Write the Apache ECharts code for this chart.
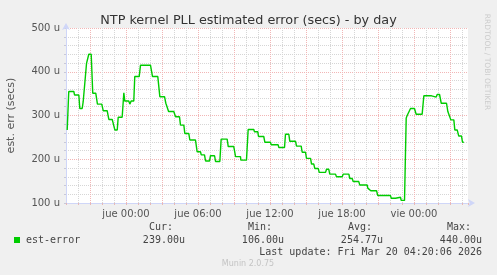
<!DOCTYPE html>
<html><head><meta charset="utf-8">
<script src="https://cdn.jsdelivr.net/npm/echarts@6/dist/echarts.min.js"></script>
<style>html,body{margin:0;padding:0;background:#F0F0F0}#c{width:497px;height:275px}</style>
</head><body><div id="c"></div>
<script>
// hours relative to Thu (jue) 00:00; each step holds value from start to end
const segStart = [-4.90,-4.77,-4.29,-3.85,-3.57,-3.29,-3.10,-2.77,-2.38,-1.90,-1.43,-0.93,-0.65,-0.18,-0.10,0.32,0.43,0.73,1.21,2.08,2.21,2.82,3.32,3.55,4.13,4.54,4.90,5.32,5.93,6.27,6.63,7.04,7.46,7.93,8.52,9.13,9.57,10.18,10.70,11.04,11.57,12.10,12.73,13.29,13.65,14.21,14.68,15.04,15.46,15.73,16.10,16.71,16.98,17.54,18.10,18.65,18.93,19.48,20.15,20.40,20.98,22.10,22.54,22.93,23.35,23.43,23.71,24.18,24.82,25.52,25.93,26.27,26.82,27.07,27.40,27.73,28.04];
const segEnd   = [-4.90,-4.35,-3.93,-3.65,-3.46,-3.15,-2.90,-2.52,-2.02,-1.57,-1.15,-0.73,-0.32,-0.18,0.23,0.32,0.65,1.10,2.04,2.18,2.65,3.21,3.45,3.98,4.46,4.82,5.23,5.79,6.21,6.54,6.96,7.38,7.82,8.43,8.98,9.54,10.04,10.65,10.98,11.48,12.04,12.68,13.21,13.57,14.13,14.60,14.96,15.38,15.65,16.02,16.63,16.90,17.46,18.02,18.57,18.85,19.40,20.10,20.30,20.88,22.04,22.46,22.88,23.21,23.35,23.57,24.04,24.68,25.46,25.85,26.13,26.71,26.98,27.32,27.60,27.96,28.15];
const segValue = [267,355,347,316,331,419,440,351,326,311,291,267,296,352,333,326,333,389,415,412,389,343,328,309,297,278,259,244,217,210,196,208,195,246,229,206,198,268,263,252,239,233,227,257,241,230,216,202,189,179,170,177,166,160,166,156,149,141,134,128,117,111,113,106,294,300,316,303,345,342,348,328,309,290,267,253,239];

const xLabelHours = [0, 6, 12, 18, 24];
const xLabelText = ['jue 00:00', 'jue 06:00', 'jue 12:00', 'jue 18:00', 'vie 00:00'];
const yLabelValues = [100, 200, 300, 400, 500];
const titleText = 'NTP kernel PLL estimated error (secs) - by day';
const yTitle = 'est. err (secs)';
const seriesName = 'est-error';
const statNames = ['Cur:', 'Min:', 'Avg:', 'Max:'];
const statValues = ['239.00u', '106.00u', '254.77u', '440.00u'];
const lastUpdate = 'Last update: Fri Mar 20 04:20:06 2026';
const footer = 'Munin 2.0.75';
const sideText = 'RRDTOOL / TOBI OETIKER';

const data = [];
for (let i = 0; i < segValue.length; i++) {
  data.push([segStart[i], segValue[i]]);
  if (segEnd[i] !== segStart[i]) data.push([segEnd[i], segValue[i]]);
}

const GRAY = '#d6d6d6', RED = '#f2b6b6', AXIS = '#CFD6F8', TXT = '#555';
const mono = '10px "DejaVu Sans Mono"';
const statX = [149, 248, 348, 447];
const valRight = [185, 284, 383, 482];

const graphics = [
  {type:'rect', shape:{x:14, y:237, width:6, height:6}, style:{fill:'#00CC00'}},
  {type:'text', x:26, y:240, style:{text:seriesName, font:mono, fill:'#444', align:'left', verticalAlign:'middle'}},
  {type:'text', x:482, y:252, style:{text:lastUpdate, font:mono, fill:'#444', align:'right', verticalAlign:'middle'}},
  {type:'text', x:248, y:264, style:{text:footer, font:'8px "DejaVu Sans"', fill:'#c4c4c4', align:'center', verticalAlign:'middle'}},
  {type:'text', x:487, y:62, rotation:-Math.PI/2, style:{text:sideText, font:'7.5px "DejaVu Sans"', fill:'#cccccc', align:'center', verticalAlign:'middle'}}
];
statNames.forEach((n, i) => {
  graphics.push({type:'text', x:statX[i], y:227.5, style:{text:n, font:mono, fill:'#444', align:'left', verticalAlign:'middle'}});
  graphics.push({type:'text', x:valRight[i], y:240, style:{text:statValues[i], font:mono, fill:'#444', align:'right', verticalAlign:'middle'}});
});

const chart = echarts.init(document.getElementById('c'), null, {renderer:'canvas'});
chart.setOption({
  backgroundColor:'#F0F0F0',
  animation:false,
  title:{text:titleText, left:'center', top:9, textStyle:{fontFamily:'DejaVu Sans', fontSize:12.8, fontWeight:'normal', color:'#333'}},
  grid:{left:66, top:28, width:402, height:175, show:true, backgroundColor:'#FFFFFF', borderWidth:0, containLabel:false, outerBoundsMode:'none'},
  xAxis:{
    type:'value', min:-5, max:28.5, interval:1,
    axisLine:{show:true, onZero:false, lineStyle:{color:AXIS, width:1}, symbol:['none','arrow'], symbolSize:[6,7], symbolOffset:[0,7]},
    axisTick:{show:true, length:2, lineStyle:{color:'#e6b8b8'}},
    axisLabel:{color:TXT, fontFamily:'DejaVu Sans', fontSize:10, margin:6, hideOverlap:false,
      formatter:v => { const i = xLabelHours.indexOf(Math.round(v*100)/100); return i >= 0 ? xLabelText[i] : ''; }},
    splitLine:{show:true, showMaxLine:false, lineStyle:{color:[GRAY, GRAY, RED], type:[1,1], width:1}}
  },
  yAxis:{
    type:'value', min:100, max:500, interval:20,
    name:yTitle, nameLocation:'middle', nameGap:49, nameRotate:90,
    nameTextStyle:{fontFamily:'DejaVu Sans', fontSize:11, color:TXT},
    axisLine:{show:true, onZero:false, lineStyle:{color:AXIS, width:1}, symbol:['none','arrow'], symbolSize:[6,7], symbolOffset:[0,5]},
    axisTick:{show:true, length:2, lineStyle:{color:'#c8c8d8'}},
    axisLabel:{color:TXT, fontFamily:'DejaVu Sans', fontSize:10, margin:6,
      formatter:v => yLabelValues.indexOf(Math.round(v)) >= 0 ? Math.round(v) + ' u' : ''},
    splitLine:{show:true, lineStyle:{color:[RED, GRAY, GRAY, GRAY, GRAY], type:[1,1], width:1}}
  },
  series:[{
    name:seriesName, type:'line', data:data, showSymbol:false, symbol:'none',
    lineStyle:{color:'#00CC00', width:1.4}, itemStyle:{color:'#00CC00'}, z:5
  }],
  graphic:graphics
});
</script></body></html>
